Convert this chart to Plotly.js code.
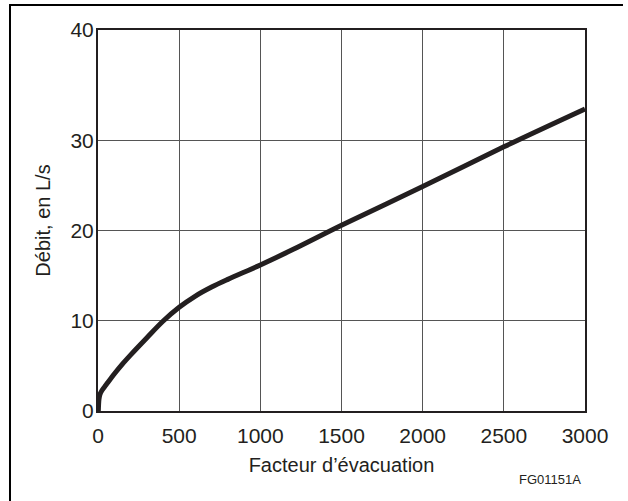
<!DOCTYPE html>
<html>
<head>
<meta charset="utf-8">
<script src="https://cdn.plot.ly/plotly-3.0.1.min.js"></script>
<style>
html,body{margin:0;padding:0;background:#fff;}
#chart{width:628px;height:501px;}
</style>
</head>
<body>
<div id="chart"></div>
<script>
// Data
var facteur = [2, 6, 12, 25, 50, 100, 150, 200, 300, 400, 500, 600, 700, 800, 1000, 1200, 1500, 2000, 2500, 3000];
var debit   = [0, 1.3, 1.85, 2.3, 2.9, 4.1, 5.2, 6.2, 8.1, 9.95, 11.5, 12.75, 13.75, 14.6, 16.2, 17.9, 20.6, 24.9, 29.3, 33.5];

var xTickVals = [0, 500, 1000, 1500, 2000, 2500, 3000];
var xTickText = ['0', '500', '1000', '1500', '2000', '2500', '3000'];
// the original drawing's top edge (labelled 40) sits above a uniform 40
var yTop = 42.26;
var yTickVals = [0, 10, 20, 30, yTop];
var yTickText = ['0', '10', '20', '30', '40'];

var ink = '#231f20';
var font = 'Liberation Sans, Arial, Helvetica, sans-serif';

var trace = {
  x: facteur, y: debit, type: 'scatter', mode: 'lines',
  line: {color: ink, width: 5, shape: 'spline', smoothing: 0.9},
  hoverinfo: 'skip'
};

var layout = {
  width: 628, height: 501,
  margin: {l: 98, r: 43, t: 30, b: 90},
  paper_bgcolor: '#fff', plot_bgcolor: '#fff',
  showlegend: false,
  font: {family: font, color: ink, size: 21},
  xaxis: {
    range: [0, 3000], tickvals: xTickVals, ticktext: xTickText,
    showgrid: true, gridcolor: '#555', gridwidth: 1.3,
    showline: true, linecolor: ink, linewidth: 2, mirror: true,
    ticks: '', ticklabelstandoff: 5, zeroline: false,
    tickfont: {family: font, size: 21, color: ink},
    title: {text: 'Facteur d\u2019\u00e9vacuation', font: {family: font, size: 20, color: ink}, standoff: 12}
  },
  yaxis: {
    range: [0, yTop], tickvals: yTickVals, ticktext: yTickText,
    showgrid: true, gridcolor: '#555', gridwidth: 1.3,
    showline: true, linecolor: ink, linewidth: 2, mirror: true,
    ticks: '', ticklabelstandoff: -2, zeroline: false,
    tickfont: {family: font, size: 21, color: ink},
    title: {text: 'D\u00e9bit, en L/s', font: {family: font, size: 20, color: ink}, standoff: 14}
  },
  shapes: [
    {type: 'line', xref: 'paper', yref: 'paper', x0: -0.1807, x1: -0.1807, y0: 1.0655, y1: -0.24, line: {color: '#000', width: 2}},
    {type: 'line', xref: 'paper', yref: 'paper', x0: -0.1827, x1: 1.078, y0: 1.0655, y1: 1.0655, line: {color: '#000', width: 2}}
  ],
  annotations: [
    {text: 'FG01151A', xref: 'paper', yref: 'paper', x: 0.928, y: -0.181, xanchor: 'center', yanchor: 'middle',
     showarrow: false, font: {family: font, size: 13, color: ink}}
  ]
};

Plotly.newPlot('chart', [trace], layout, {displayModeBar: false, staticPlot: true});
</script>
</body>
</html>
